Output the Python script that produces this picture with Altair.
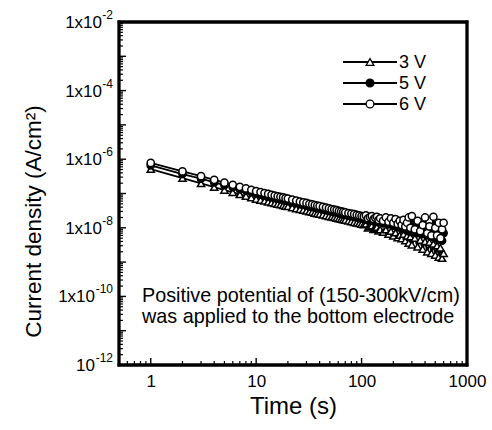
import altair as alt
import pandas as pd

# ---------------- data ----------------
times = [1, 2, 3, 4, 5, 6, 7, 8, 9, 10, 11, 12, 13, 14, 15, 16, 17, 18, 19, 20,
         22, 24, 26, 28, 30, 32, 34, 36, 38, 40,
         43, 46, 49, 52, 55, 58, 61, 64, 67, 70,
         75, 80, 85, 90, 95, 100, 105, 110, 115, 120, 125, 130, 135, 140, 145, 150,
         160, 170, 180, 190, 200, 210, 220, 230, 240, 250, 260, 270, 280, 290, 300,
         320, 340, 360, 380, 400, 420, 440, 460, 480, 500, 520, 540, 560, 580, 600]

j_3v = [5.1e-7, 2.8e-7, 1.97e-7, 1.53e-7, 1.26e-7, 1.08e-7, 9.4e-8, 8.4e-8, 7.6e-8, 6.9e-8,
        6.45e-8, 6.05e-8, 5.7e-8, 5.4e-8, 5.15e-8, 4.9e-8, 4.7e-8, 4.5e-8, 4.3e-8, 4.2e-8,
        3.9e-8, 3.65e-8, 3.45e-8, 3.3e-8, 3.1e-8, 2.95e-8, 2.85e-8, 2.7e-8, 2.6e-8, 2.5e-8,
        2.4e-8, 2.27e-8, 2.17e-8, 2.07e-8, 2.0e-8, 1.92e-8, 1.85e-8, 1.79e-8, 1.73e-8, 1.67e-8,
        1.59e-8, 1.52e-8, 1.45e-8, 1.39e-8, 1.34e-8, 1.29e-8, 1.23e-8, 1.3e-8, 1.0e-8, 1.09e-8,
        1.15e-8, 9e-9, 9.8e-9, 1.05e-8, 8.2e-9, 8.9e-9,
        7.5e-9, 8.8e-9, 6.5e-9, 8e-9, 5.8e-9, 7.2e-9, 5.2e-9, 6.1e-9, 4.8e-9, 6.5e-9,
        4.2e-9, 5.8e-9, 3.6e-9, 5.5e-9, 3.2e-9,
        5e-9, 2.8e-9, 4.4e-9, 2.4e-9, 4e-9, 2.0e-9, 3.8e-9, 1.8e-9, 3.4e-9, 1.6e-9,
        3e-9, 1.4e-9, 2.6e-9, 1.3e-9, 1.8e-9]

j_5v = [6.6e-7, 3.7e-7, 2.7e-7, 2.1e-7, 1.75e-7, 1.52e-7, 1.33e-7, 1.2e-7, 1.09e-7, 1.0e-7,
        9.3e-8, 8.8e-8, 8.2e-8, 7.8e-8, 7.4e-8, 7.1e-8, 6.8e-8, 6.5e-8, 6.2e-8, 6.0e-8,
        5.6e-8, 5.3e-8, 4.9e-8, 4.7e-8, 4.5e-8, 4.25e-8, 4.1e-8, 3.9e-8, 3.75e-8, 3.65e-8,
        3.5e-8, 3.3e-8, 3.15e-8, 3.0e-8, 2.9e-8, 2.8e-8, 2.65e-8, 2.55e-8, 2.45e-8, 2.4e-8,
        2.3e-8, 2.2e-8, 2.1e-8, 2.05e-8, 1.95e-8, 1.9e-8, 1.8e-8, 2.0e-8, 1.65e-8, 1.75e-8,
        1.85e-8, 1.55e-8, 1.7e-8, 1.75e-8, 1.45e-8, 1.6e-8,
        1.35e-8, 1.6e-8, 1.25e-8, 1.5e-8, 1.15e-8, 1.4e-8, 1.05e-8, 1.3e-8, 9.5e-9, 1.3e-8,
        9e-9, 1.2e-8, 8e-9, 1.25e-8, 7.5e-9,
        1.1e-8, 7e-9, 1.05e-8, 6.5e-9, 1.0e-8, 6e-9, 9.5e-9, 5.5e-9, 9e-9, 5e-9,
        8.5e-9, 4.5e-9, 8e-9, 4.2e-9, 7e-9]

j_6v = [7.8e-7, 4.4e-7, 3.2e-7, 2.5e-7, 2.07e-7, 1.79e-7, 1.57e-7, 1.41e-7, 1.28e-7, 1.17e-7,
        1.10e-7, 1.03e-7, 9.7e-8, 9.2e-8, 8.7e-8, 8.3e-8, 8.0e-8, 7.7e-8, 7.3e-8, 7.1e-8,
        6.6e-8, 6.2e-8, 5.8e-8, 5.5e-8, 5.3e-8, 5.0e-8, 4.8e-8, 4.6e-8, 4.4e-8, 4.3e-8,
        4.1e-8, 3.9e-8, 3.7e-8, 3.5e-8, 3.4e-8, 3.3e-8, 3.1e-8, 3.0e-8, 2.9e-8, 2.8e-8,
        2.7e-8, 2.6e-8, 2.5e-8, 2.4e-8, 2.3e-8, 2.2e-8, 2.15e-8, 2.3e-8, 1.9e-8, 2.05e-8,
        2.2e-8, 1.8e-8, 1.95e-8, 2.1e-8, 1.7e-8, 1.9e-8,
        1.6e-8, 2.0e-8, 1.5e-8, 1.9e-8, 1.4e-8, 1.8e-8, 1.3e-8, 1.6e-8, 1.2e-8, 1.7e-8,
        1.1e-8, 1.4e-8, 2.0e-8, 1.0e-8, 2.2e-8,
        9e-9, 1.6e-8, 8e-9, 1.2e-8, 2.0e-8, 7e-9, 1.1e-8, 6e-9, 2.1e-8, 1.0e-8,
        6e-9, 1.4e-8, 5e-9, 9e-9, 1.4e-8]

series_names = ["3 V", "5 V", "6 V"]
series_shapes = ["triangle-up", "circle", "circle"]
series_fills = ["white", "black", "white"]

x_tick_labels = [1, 10, 100, 1000]
y_label_values = [1e-2, 1e-4, 1e-6, 1e-8, 1e-10, 1e-12]
y_label_base = ["1x10", "1x10", "1x10", "1x10", "1x10", "10"]
y_label_sup = ["-2", "-4", "-6", "-8", "-10", "-12"]

note_lines = ["Positive potential of (150-300kV/cm)",
              "was applied to the bottom electrode"]
x_title = "Time (s)"
y_title = "Current density (A/cm²)"

# axis limits (also used for the plot frame)
x_domain = [0.5, 1000]
y_domain = [1e-12, 1e-2]

# tick positions (decades and their 2..9 subdivisions)
y_major_ticks = [10.0 ** e for e in range(-12, -1)]
y_minor_ticks = [k * 10.0 ** e for e in range(-12, -2) for k in range(2, 10)]
x_major_ticks = [1, 10, 100]
x_minor_ticks = [0.6, 0.7, 0.8, 0.9] + [k * 10.0 ** e for e in range(0, 3) for k in range(2, 10)]

# ---------------- build tables ----------------
rows = []
for name, vals in zip(series_names, [j_3v, j_5v, j_6v]):
    for i, (t, v) in enumerate(zip(times, vals)):
        rows.append({"series": name, "t": t, "j": v, "order": i})
df = pd.DataFrame(rows)

ylab = pd.DataFrame({"j": y_label_values, "base": y_label_base, "sup": y_label_sup})

W, H = 348, 343
FONT = "Liberation Sans"

xscale = alt.Scale(type="log", domain=x_domain, nice=False)
yscale = alt.Scale(type="log", domain=y_domain, nice=False)

x_axis = alt.Axis(title=x_title, values=x_tick_labels, format="d", ticks=False, tickSize=0,
                  domain=False, grid=False, labelFontSize=17, labelPadding=8,
                  labelFlush=False, labelOverlap=False, labelBound=False,
                  labelColor="black", titleFontSize=24, titleFontWeight="normal",
                  titleColor="black", titlePadding=5, labelFont=FONT, titleFont=FONT)
y_axis = alt.Axis(title=y_title, labels=False, ticks=False, tickSize=0, domain=False, grid=False,
                  titleFontSize=22.5, titleFontWeight="normal", titleColor="black",
                  titleFont=FONT, titleX=-86, titleY=199, titleAngle=-90,
                  titleAlign="center", titleBaseline="middle")

X = alt.X("t:Q", scale=xscale, axis=x_axis)
Y = alt.Y("j:Q", scale=yscale, axis=y_axis)

lines = alt.Chart(df).mark_line(color="black", strokeWidth=1.8).encode(
    x=X, y=Y, detail="series:N", order="order:Q")

points = alt.Chart(df).mark_point(stroke="black", strokeWidth=1.5, size=52,
                                  opacity=1, fillOpacity=1).encode(
    x=X, y=Y,
    shape=alt.Shape("series:N", scale=alt.Scale(domain=series_names, range=series_shapes), legend=None),
    fill=alt.Fill("series:N", scale=alt.Scale(domain=series_names, range=series_fills), legend=None),
)

ymaj = alt.Chart(pd.DataFrame({"j": y_major_ticks})).mark_rule(color="black", strokeWidth=1.4).encode(
    y=Y, x=alt.value(0), x2=alt.value(7))
ymin = alt.Chart(pd.DataFrame({"j": y_minor_ticks})).mark_rule(color="black", strokeWidth=1.2).encode(
    y=Y, x=alt.value(0), x2=alt.value(4))
xmaj = alt.Chart(pd.DataFrame({"t": x_major_ticks})).mark_rule(color="black", strokeWidth=1.4).encode(
    x=X, y=alt.value(H), y2=alt.value(H - 7))
xmin = alt.Chart(pd.DataFrame({"t": x_minor_ticks})).mark_rule(color="black", strokeWidth=1.2).encode(
    x=X, y=alt.value(H), y2=alt.value(H - 4))

# plot frame: rules at the domain limits, through the scales
frame_h = alt.Chart(pd.DataFrame({"j": y_domain})).mark_rule(color="black", strokeWidth=2.8).encode(
    y=Y, x=alt.value(-1.4), x2=alt.value(W + 1.4))
frame_v = alt.Chart(pd.DataFrame({"t": x_domain})).mark_rule(color="black", strokeWidth=2.8).encode(
    x=X, y=alt.value(-1.4), y2=alt.value(H + 1.4))

# y tick labels with superscripts
ysup = alt.Chart(ylab).mark_text(align="right", baseline="middle", fontSize=12, font=FONT,
                                 color="black", dy=-7).encode(
    y=Y, x=alt.value(-6), text="sup:N")
ybase_short = alt.Chart(ylab).transform_filter("length(datum.sup) == 2").mark_text(
    align="right", baseline="middle", fontSize=17, font=FONT, color="black", dy=1).encode(
    y=Y, x=alt.value(-17), text="base:N")
ybase_long = alt.Chart(ylab).transform_filter("length(datum.sup) == 3").mark_text(
    align="right", baseline="middle", fontSize=17, font=FONT, color="black", dy=1).encode(
    y=Y, x=alt.value(-24), text="base:N")

# legend (manual, inside plot)
legend_layers = []
for idx, (name, shp, fl) in enumerate(zip(series_names, series_shapes, series_fills)):
    ly = 40 + 21 * idx
    src = pd.DataFrame({"label": [name]})
    legend_layers.append(alt.Chart(src).mark_rule(color="black", strokeWidth=2).encode(
        x=alt.value(224), x2=alt.value(278), y=alt.value(ly)))
    legend_layers.append(alt.Chart(src).mark_point(shape=shp, fill=fl, stroke="black", strokeWidth=1.3,
                                                   size=60, opacity=1, fillOpacity=1).encode(
        x=alt.value(251), y=alt.value(ly)))
    legend_layers.append(alt.Chart(src).mark_text(align="left", baseline="middle", fontSize=18,
                                                  font=FONT, color="black").encode(
        x=alt.value(280), y=alt.value(ly + 1), text="label:N"))

# annotation
note_layers = []
for k, line in enumerate(note_lines):
    note_layers.append(alt.Chart(pd.DataFrame({"txt": [line]})).mark_text(
        align="left", baseline="middle", fontSize=19.8, font=FONT, color="black").encode(
        x=alt.value(23), y=alt.value(274 + 21 * k), text="txt:N"))

chart = alt.layer(lines, points, ymaj, ymin, xmaj, xmin, frame_h, frame_v,
                  ysup, ybase_short, ybase_long,
                  *legend_layers, *note_layers).properties(
    width=W, height=H,
    autosize=alt.AutoSizeParams(type="none"),
    padding={"left": 119, "top": 22, "right": 25, "bottom": 65},
    background="white",
).configure_view(stroke="black", strokeWidth=2.8)

chart.save("out.html", embed_options={"renderer": "svg", "actions": False})
